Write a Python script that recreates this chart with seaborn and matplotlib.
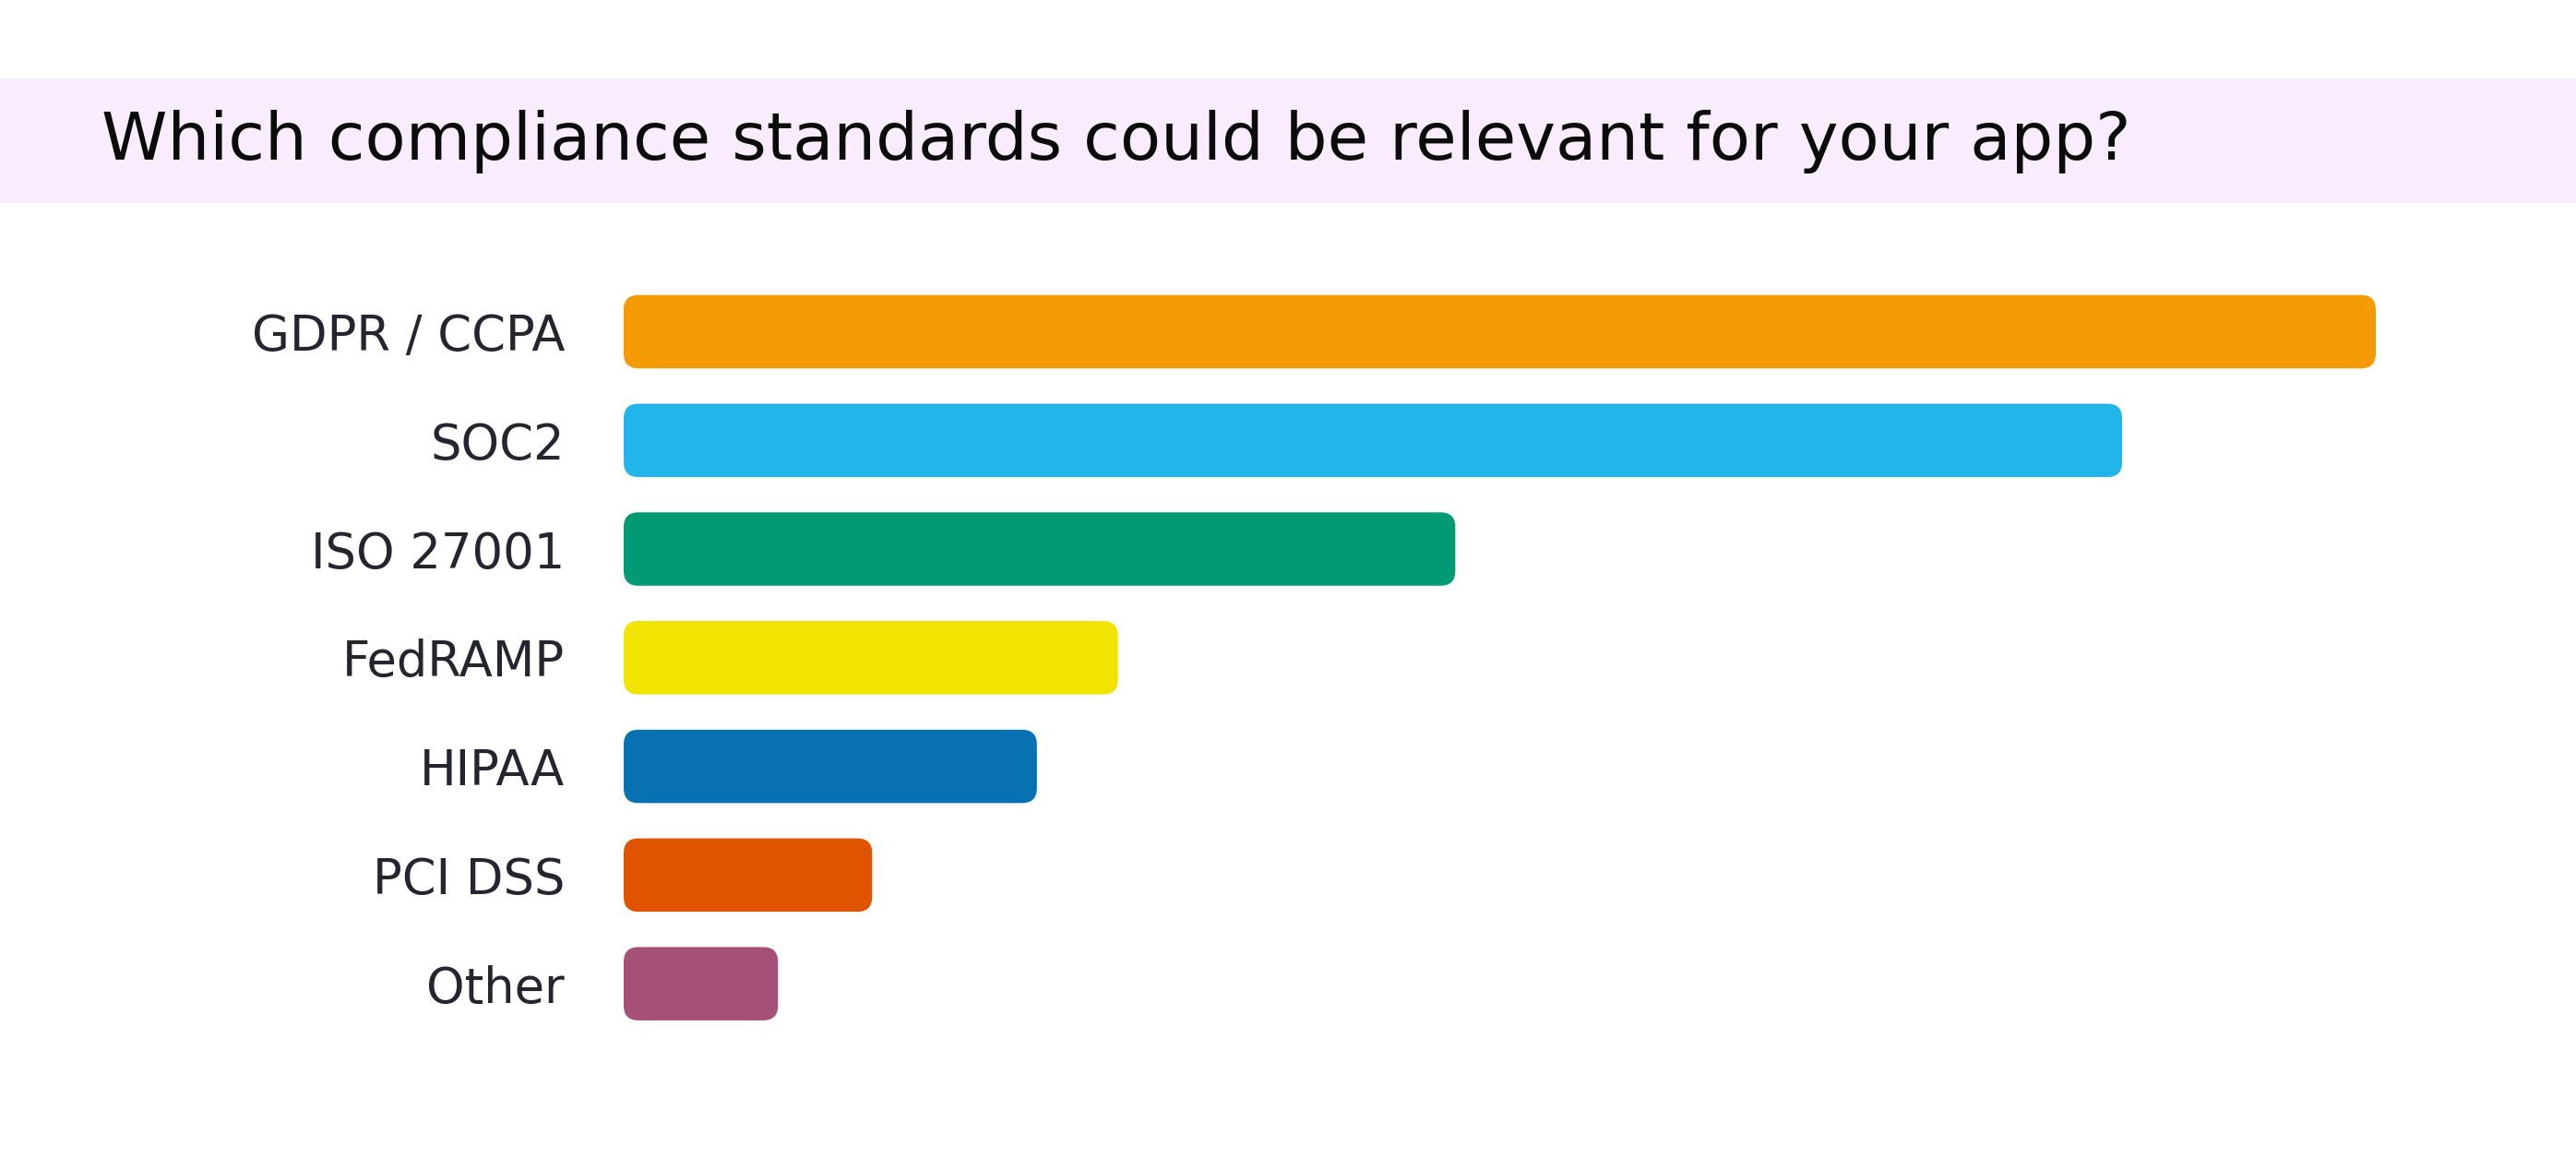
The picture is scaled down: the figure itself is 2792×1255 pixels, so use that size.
import numpy as np
import pandas as pd
import seaborn as sns
import matplotlib
matplotlib.use("Agg")
import matplotlib.pyplot as plt
from matplotlib.patches import FancyBboxPatch, Rectangle

# ---- data ----
categories = ["GDPR / CCPA", "SOC2", "ISO 27001", "FedRAMP", "HIPAA", "PCI DSS", "Other"]
values = [67, 57.3, 31.8, 18.9, 15.8, 9.5, 5.9]
colors = ["#F49A02", "#22B5EA", "#029A72", "#F0E400", "#0771B1", "#E05400", "#A65077"]
title = "Which compliance standards could be relevant for your app?"

df = pd.DataFrame({"standard": categories, "value": values})

sns.set_theme(style="white")
plt.rcParams["font.family"] = ["DejaVu Sans"]

W, H, DPI = 2792, 1255, 100
fig = plt.figure(figsize=(W / DPI, H / DPI), dpi=DPI)
fig.patch.set_facecolor("white")

# pink title band
fig.patches.append(Rectangle((0, 1 - 220 / H), 1, 135 / H, transform=fig.transFigure,
                             facecolor="#F9ECFC", edgecolor="none", zorder=0))
fig.text(110 / W, 1 - 173 / H, title, fontsize=52, color="#0b0b0b",
         ha="left", va="baseline")

ax_left, ax_right = 676, 2700
ax_top, ax_bottom = 300.6, 1125
ax = fig.add_axes([ax_left / W, 1 - ax_bottom / H, (ax_right - ax_left) / W, (ax_bottom - ax_top) / H])

sns.barplot(data=df, x="value", y="standard", hue="standard", palette=colors,
            order=categories, hue_order=categories, width=0.675, legend=False,
            ax=ax, saturation=1)

xmax = values[0] * (ax_right - ax_left) / (2575 - ax_left)
ax.set_xlim(0, xmax)
ax.set_ylim(len(categories) - 0.5, -0.5)

# rounded corners
px_per_x = (ax_right - ax_left) / xmax
px_per_y = (ax_bottom - ax_top) / len(categories)
r_px = 16
r_x = r_px / px_per_x
r_y = r_px / px_per_y
aspect = r_y / r_x
for p in list(ax.patches):
    x0, y0, w, h = p.get_x(), p.get_y(), p.get_width(), p.get_height()
    fc = p.get_facecolor()
    p.set_visible(False)
    fb = FancyBboxPatch((x0, y0), w, h,
                        boxstyle=f"round,pad=0,rounding_size={r_x}",
                        mutation_aspect=aspect, facecolor=fc, edgecolor="none", zorder=3)
    ax.add_patch(fb)

for s in ax.spines.values():
    s.set_visible(False)
ax.set_xlabel("")
ax.set_ylabel("")
ax.set_xticks([])
ax.tick_params(axis="y", length=0, pad=46, labelsize=38, labelcolor="#25252f")
ax.set_facecolor("none")

fig.savefig("out.png", dpi=DPI, facecolor="white")
